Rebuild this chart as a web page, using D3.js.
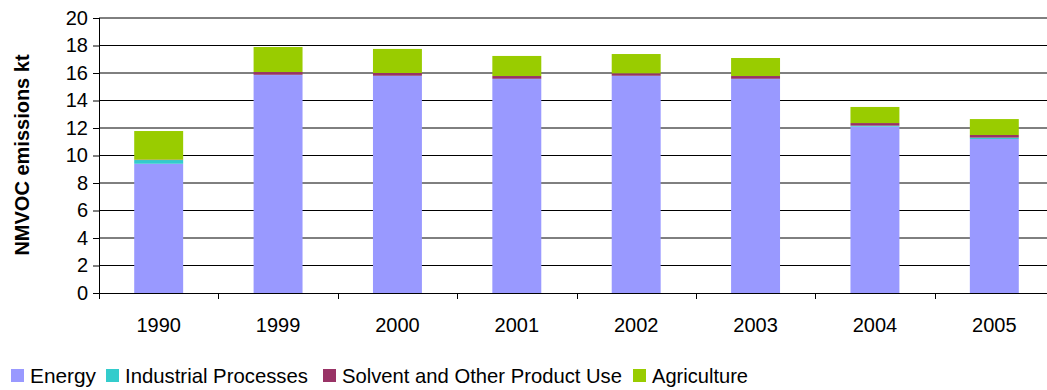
<!DOCTYPE html>
<html>
<head>
<meta charset="utf-8">
<script src="https://cdn.jsdelivr.net/npm/d3@7"></script>
<style>
  body { margin: 0; background: #fff; }
  svg text { font-family: "Liberation Sans", Arial, sans-serif; fill: #000; }
</style>
</head>
<body>
<svg class="ch_svg"></svg>
<script>
// data
var years = ["1990", "1999", "2000", "2001", "2002", "2003", "2004", "2005"];
var energy = [9.4, 15.85, 15.78, 15.56, 15.78, 15.56, 12.1, 11.2];
var industrial = [0.27, 0.02, 0.02, 0.02, 0.02, 0.02, 0.07, 0.1];
var solvent = [0.03, 0.2, 0.2, 0.2, 0.18, 0.2, 0.19, 0.19];
var agriculture = [2.08, 1.82, 1.75, 1.46, 1.4, 1.31, 1.17, 1.16];
var seriesNames = ["Energy", "Industrial Processes", "Solvent and Other Product Use", "Agriculture"];
var yTicks = [0, 2, 4, 6, 8, 10, 12, 14, 16, 18, 20];

var colors = ["#9999FF", "#33CCCC", "#993366", "#99CC00"];

var W = 1047, H = 390;
var plotLeft = 99, plotTop = 18, plotBottom = 293, plotRight = 1054;

var svg = d3.select(".ch_svg").attr("width", W).attr("height", H);

var rows = years.map(function (yr, i) {
  return {year: yr, s0: energy[i], s1: industrial[i], s2: solvent[i], s3: agriculture[i]};
});
var stack = d3.stack().keys(["s0", "s1", "s2", "s3"])(rows);

var x = d3.scaleBand().domain(years).range([plotLeft, plotRight]).paddingInner(0.59).paddingOuter(0.295);
var y = d3.scaleLinear().domain([0, 20]).range([plotBottom, plotTop]);

// gridlines
svg.append("g").selectAll("line")
  .data(yTicks.filter(function (d) { return d > 0; }))
  .join("line")
  .attr("x1", plotLeft).attr("x2", plotRight)
  .attr("y1", function (d) { return y(d); })
  .attr("y2", function (d) { return y(d); })
  .attr("stroke", "#000")
  .attr("stroke-width", 1);

// bars
svg.append("g").selectAll("g")
  .data(stack)
  .join("g")
  .attr("fill", function (d, i) { return colors[i]; })
  .selectAll("rect")
  .data(function (d) { return d; })
  .join("rect")
  .attr("x", function (d) { return x(d.data.year); })
  .attr("width", x.bandwidth())
  .attr("y", function (d) { return y(d[1]); })
  .attr("height", function (d) { return y(d[0]) - y(d[1]); });

// y axis
var yAxis = svg.append("g")
  .attr("transform", "translate(" + plotLeft + ",0)")
  .call(d3.axisLeft(y).tickValues(yTicks).tickSize(6).tickPadding(5).tickFormat(d3.format("d")));
yAxis.selectAll("text").style("font-size", "20px").style("font-family", "'Liberation Sans', Arial, sans-serif");
yAxis.selectAll("line, path").attr("stroke", "#000");
yAxis.select(".domain").attr("d", "M0.5," + plotTop + "V" + plotBottom);

// x axis with ticks at category boundaries
var xg = svg.append("g").attr("transform", "translate(0," + plotBottom + ")");
xg.append("line").attr("x1", plotLeft).attr("x2", plotRight).attr("y1", 0.5).attr("y2", 0.5).attr("stroke", "#000");
var off = x.step() * x.paddingOuter();
xg.selectAll(".xt")
  .data(years)
  .join("line")
  .attr("class", "xt")
  .attr("x1", function (d) { return Math.round(x(d) - off) + 0.5; })
  .attr("x2", function (d) { return Math.round(x(d) - off) + 0.5; })
  .attr("y1", 0).attr("y2", 6)
  .attr("stroke", "#000");
xg.selectAll(".xl")
  .data(years)
  .join("text")
  .attr("class", "xl")
  .attr("x", function (d) { return x(d) + x.bandwidth() / 2; })
  .attr("y", 39)
  .attr("text-anchor", "middle")
  .style("font-size", "20px")
  .text(function (d) { return d; });

// y title
svg.append("text")
  .attr("transform", "translate(29,155) rotate(-90)")
  .attr("text-anchor", "middle")
  .style("font-size", "20px")
  .style("font-weight", "bold")
  .text("NMVOC emissions kt");

// legend
var legendX = [11, 106, 323, 633];
var legendW = [66, 183, 280, 96];
var leg = svg.append("g").selectAll("g")
  .data(seriesNames)
  .join("g")
  .attr("transform", function (d, i) { return "translate(" + legendX[i] + ",369)"; });
leg.append("rect").attr("width", 13).attr("height", 13)
  .attr("fill", function (d, i) { return colors[i]; });
leg.append("text")
  .attr("x", 19).attr("y", 14)
  .style("font-size", "21px")
  .attr("textLength", function (d, i) { return legendW[i]; })
  .attr("lengthAdjust", "spacingAndGlyphs")
  .text(function (d) { return d; });
</script>
</body>
</html>
